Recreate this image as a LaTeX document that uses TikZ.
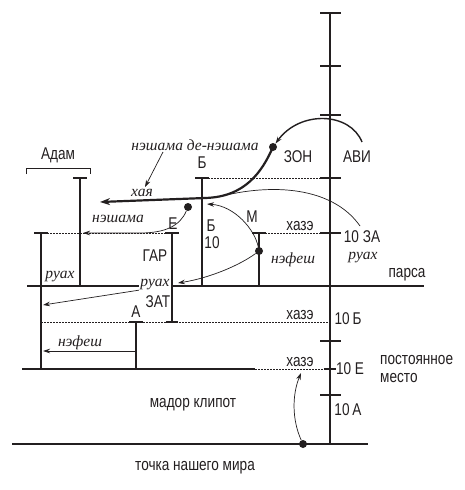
\documentclass[tikz,border=0pt]{standalone}
\usepackage{fontspec}
\setmainfont{Liberation Sans}[FakeStretch=0.8]
\newfontfamily\itfont{Liberation Serif}
\usetikzlibrary{arrows.meta}
\definecolor{ink}{RGB}{35,31,32}
\begin{document}
\begin{tikzpicture}[x=1pt,y=-1pt,
  axis/.style={draw=ink,line width=1.7pt},
  barline/.style={draw=ink,line width=1.7pt},
  foot/.style={draw=ink,line width=2.6pt},
  hair/.style={draw=ink,line width=0.6pt,dash pattern=on 1.6pt off 1.4pt},
  thinl/.style={draw=ink,line width=0.7pt},
  fat/.style={draw=ink,line width=2.2pt},
  tip/.style={-{Stealth[length=7pt,width=4.5pt]}},
  bigtip/.style={-{Stealth[length=10pt,width=7pt]}},
  sf/.style={font=\fontsize{17}{18}\selectfont,text=ink,inner sep=0pt},
  it/.style={font=\itfont\itshape\fontsize{15.5}{16}\selectfont,text=ink,inner sep=0pt},
  blob/.style={circle,fill=ink,inner sep=0pt,minimum size=8pt}]
\useasboundingbox[fill=white] (0,0) rectangle (464,490);

% main axis
\coordinate (axtop) at (330,13);
\coordinate (axbot) at (330,444);
\draw[axis] (axtop) -- (axbot);
\foreach \y in {13,66,115,178,233,341,395} \draw[axis] (320,\y) -- (341,\y);
\draw[axis] (324,369) -- (336,369);

% horizontal lines
\coordinate (parsaL) at (27,286);
\coordinate (parsaR) at (424,286);
\draw[axis] (parsaL) -- (parsaR);
\coordinate (lowL) at (22,369);
\coordinate (lowR) at (255,369);
\coordinate (lowA) at (330,369);
\draw[axis] (lowL) -- (lowR);
\draw[hair] (lowR) -- (lowA);
\coordinate (grL) at (12,444);
\coordinate (grR) at (368,444);
\draw[axis] (grL) -- (grR);

% dotted levels
\draw[hair] (202,178) -- (330,178);
\draw[hair] (41,233) -- (172,233);
\draw[hair] (259,233) -- (330,233);
\draw[hair] (41,322) -- (330,322);

% bars
\foreach \x/\a/\b in {80/178/286, 41/233/369, 172/233/322, 202/178/286, 259/233/286, 136/322/369} {
  \draw[barline] (\x,\a) -- (\x,\b);
  \draw[barline] (\x-7,\a) -- (\x+7,\a);
  \draw[foot] (\x-6,\b) -- (\x+6,\b);
}

% Adam bracket
\draw[thinl] (26,174) -- (26,168) -- (90,168) -- (90,174);

% dots
\node[blob] (dZON) at (273,147) {};
\node[blob] (dNesh) at (188,207) {};
\node[blob] (dM) at (259,251) {};
\node[blob] (dWorld) at (303,444) {};

% arrows
\coordinate (aviStart) at (362,142);
\draw[thinl,line width=1.4pt,tip] (aviStart) .. controls (350,112) and (300,110) .. (dZON);
\coordinate (hayaMid) at (205,198);
\coordinate (hayaEnd) at (100,202);
\draw[fat,bigtip] (dZON.center) .. controls (262,172) and (245,197) .. (hayaMid) -- (hayaEnd);

\coordinate (ndnFrom) at (163,152);
\coordinate (ndnTo) at (145,187);
\draw[thinl,tip] (ndnFrom) -- (ndnTo);

\coordinate (neshTo) at (83,233);
\draw[thinl,tip] (dNesh) .. controls (180,226) and (165,233) .. (140,233) -- (neshTo);

\coordinate (mUp) at (207,204);
\draw[thinl,tip] (dM) .. controls (255,230) and (235,206) .. (mUp);
\coordinate (mDown) at (178,283);
\draw[thinl,tip] (dM) .. controls (240,265) and (210,278) .. (mDown);

\coordinate (zaFrom) at (360,226);
\coordinate (zaTo) at (222,196);
\draw[thinl] (zaFrom) .. controls (335,190) and (280,182) .. (zaTo);

\coordinate (ruFrom) at (140,290);
\coordinate (ruTo) at (43,305);
\draw[thinl,tip] (ruFrom) -- (ruTo);

\coordinate (nfFrom) at (136,351);
\coordinate (nfTo) at (43,351);
\draw[thinl,tip] (nfFrom) -- (nfTo);

\coordinate (wTo) at (301,373);
\draw[thinl,tip] (dWorld) .. controls (292,420) and (292,395) .. (wTo);

% labels
\node[sf] (tAdam) at (58,155) {Адам};
\node[it] (tNdn) at (195,145) {нэшама де-нэшама};
\node[sf] (tZon) at (298,157) {ЗОН};
\node[sf] (tAvi) at (357,157) {АВИ};
\node[sf] (tB1) at (202,163) {Б};
\node[it] (tHaya) at (142,193) {хая};
\node[it] (tNesh) at (118,219) {нэшама};
\node[sf] (tE) at (173,224) {Е};
\node[sf] (tB2) at (211,226) {Б};
\node[sf] (t10) at (212,243) {10};
\node[sf] (tM) at (252,217) {М};
\node[sf] (tHaz1) at (300,226) {хазэ};
\node[sf] (t10ZA) at (362,237) {10 ЗА};
\node[it] (tRu1) at (363,258) {руах};
\node[it] (tNf1) at (293,260) {нэфеш};
\node[sf] (tGar) at (155,256) {ГАР};
\node[sf] (tParsa) at (407,275) {парса};
\node[it,fill=white,inner sep=1pt] (tRu2) at (60,277) {руах};
\node[it,fill=white,inner sep=1pt] (tRu3) at (155,285) {руах};
\node[sf] (tZat) at (158,302) {ЗАТ};
\node[sf] (tA) at (136,312) {А};
\node[sf] (tHaz2) at (300,315) {хазэ};
\node[sf] (t10B) at (348,319) {10\,Б};
\node[it] (tNf2) at (80,343) {нэфеш};
\node[sf] (tHaz3) at (300,362) {хазэ};
\node[sf] (t10E) at (350,369) {10 Е};
\node[sf,anchor=west,align=left] (tPost) at (380,369) {постоянное\\место};
\node[sf] (t10A) at (348,410) {10\,А};
\node[sf] (tMador) at (193,405) {мадор клипот};
\node[sf] (tWorld) at (195,468) {точка нашего мира};
\end{tikzpicture}
\end{document}
